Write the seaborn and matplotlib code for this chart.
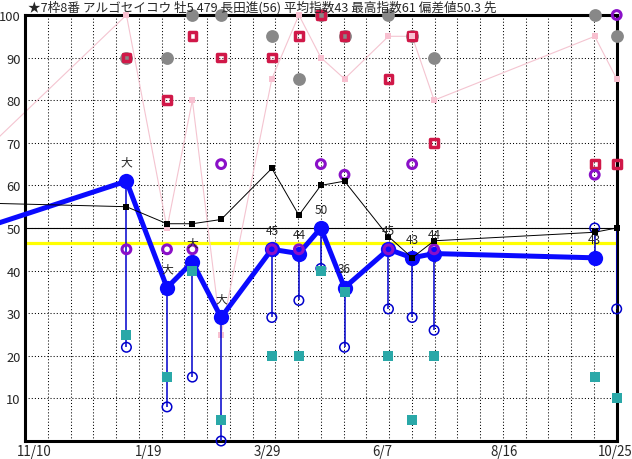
import numpy as np
import pandas as pd
import matplotlib
matplotlib.use("Agg")
import matplotlib.pyplot as plt
import matplotlib.transforms as mtrans
import seaborn as sns

sns.set_style("white")
plt.rcParams['font.family'] = ['Noto Sans CJK JP', 'DejaVu Sans']

title = "★7枠8番 アルゴセイコウ 牡5 479 長田進(56) 平均指数43 最高指数61 偏差値50.3 先"

# race days counted from 11/10 (first value is an earlier race off the chart)
days = [-40, 60, 84, 99, 116, 146, 162, 175, 189, 215, 229, 242, 337, 350]
tick_days = [0, 70, 140, 210, 280, 350]
tick_labels = ["11/10", "1/19", "3/29", "6/7", "8/16", "10/25"]

# main index (thick blue), last race has none yet
index_vals = [48, 61, 36, 42, 29, 45, 44, 50, 36, 45, 43, 44, 43]
index_text = ["大", "大", "大", "大", "45", "44", "50", "36", "45", "43", "44", "43"]
# average line (black)
avg_vals = [56, 55, 51, 51, 52, 64, 53, 60, 61, 48, 43, 47, 49, 50]
# pink line
pink_vals = [62, 100, 50, 80, 25, 85, 100, 90, 85, 95, 95, 80, 95, 85]
# lower open blue circles
low_vals = [22, 8, 15, 0, 29, 33, 40.5, 22, 31, 29, 26, 50, 31]
stem_top = [61, 36, 42, 29, 45, 44, 50, 36, 45, 43, 44, 43, 50]
teal_vals = [25, 15, 40, 5, 20, 20, 40, 35, 20, 5, 20, 15, 10]
purple_vals = [45, 45, 45, 65, 45, 45, 65, 62.5, 45, 65, 45, 62.5, 100]
red_vals = [90, 80, 95, 90, 90, 95, 100, 95, 85, 95, 70, 65, 65]
grey_vals = [90, 90, 100, 100, 95, 85, 100, 95, 100, 95, 90, 100, 95]
yellow_level = 46.4
base_level = 50

race_days = days[1:]

fig = plt.figure(figsize=(6.32, 4.60), dpi=100)
ax = fig.add_axes([25 / 632, 18 / 460, 591.7 / 632, 426 / 460])
ax.set_xlim(0, 350)
ax.set_ylim(0, 100)

# dotted grid
for gx in np.linspace(0, 350, 27)[1:-1]:
    ax.axvline(gx, color="black", lw=0.75, ls=(0, (1, 2)), zorder=0)
for gy in range(10, 100, 10):
    ax.axhline(gy, color="black", lw=0.75, ls=(0, (1, 2)), zorder=0)

ax.axhline(yellow_level, color="#ffff00", lw=2.3, zorder=1)
ax.axhline(base_level, color="black", lw=0.8, zorder=1)

sns.lineplot(x=days, y=pink_vals, sort=False, estimator=None, ax=ax,
             color="#f4c4d0", lw=0.8, zorder=2, clip_on=False)

sns.scatterplot(x=race_days, y=grey_vals, ax=ax, color="#888888", s=85,
                linewidth=0, zorder=3, clip_on=False)
sns.scatterplot(x=race_days, y=red_vals, ax=ax, marker="s", s=30,
                facecolor="none", edgecolor="#d01848", linewidth=2.5,
                zorder=4, clip_on=False)
sns.scatterplot(x=race_days, y=pink_vals[1:], ax=ax, marker="s", s=13,
                color="#f8c0d0", linewidth=0, zorder=5, clip_on=False)

ax.vlines(race_days, low_vals, stem_top, color="#0000cc", lw=1.1, zorder=5)

sns.lineplot(x=days[:-1], y=index_vals, sort=False, estimator=None, ax=ax,
             color="#0a0aff", lw=3.6, marker="o", markersize=11,
             markeredgewidth=0, zorder=6, clip_on=False)

sns.scatterplot(x=race_days, y=low_vals, ax=ax, marker="o", s=47,
                facecolor="none", edgecolor="#0000cc", linewidth=1.1,
                zorder=7, clip_on=False)
sns.scatterplot(x=race_days, y=teal_vals, ax=ax, marker="s", s=42,
                color="#2aa8a8", linewidth=0, zorder=7, clip_on=False)
sns.scatterplot(x=race_days, y=purple_vals, ax=ax, marker="o", s=40,
                facecolor="none", edgecolor="#8a10c8", linewidth=2.2,
                zorder=8, clip_on=False)

sns.lineplot(x=days, y=avg_vals, sort=False, estimator=None, ax=ax,
             color="black", lw=0.7, marker="s", markersize=5,
             markeredgewidth=0, zorder=9, clip_on=False)

for d, v, t in zip(race_days, index_vals[1:], index_text):
    ax.annotate(t, (d, v), xytext=(0, 13.5), textcoords="offset points",
                ha="center", va="center", fontsize=8.5, zorder=10)

for s in ax.spines.values():
    s.set_visible(True)
    s.set_color("black")
    s.set_linewidth(2.2)

ax.set_yticks(range(10, 101, 10))
ax.set_xticks([])
ax.tick_params(length=0, labelsize=9.3, pad=3)
ax.set_xlabel("")
ax.set_ylabel("")

# date labels start a little left of their day; the last one is pulled in
xt = mtrans.blended_transform_factory(ax.transData, ax.transAxes)
for i, (d, lab) in enumerate(zip(tick_days, tick_labels)):
    off = -8 if i < len(tick_days) - 1 else -19
    tr = xt + mtrans.ScaledTranslation(off / 100, -10 / 100, fig.dpi_scale_trans)
    ax.text(d, 0, lab, transform=tr, ha="left", va="center", fontsize=9.6)

fig.text(28 / 632, 1 - 8 / 460, title, ha="left", va="center", fontsize=9.1)

fig.savefig("out.png", dpi=100)
